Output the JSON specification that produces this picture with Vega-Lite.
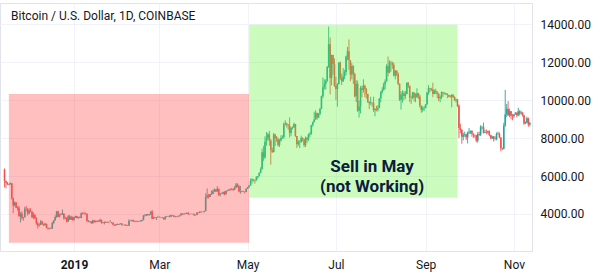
{
"$schema":"https://vega.github.io/schema/vega-lite/v6.json",
"width":532,"height":248,
"autosize":{"type":"none"},
"padding":{"left":0,"top":3,"right":68,"bottom":24},
"background":"#ffffff",
"config":{"view":{"stroke":"#e0e3eb","strokeWidth":1},"font":"Roboto"},
"data":{"values":[
{"d":"2018-11-14","o":6350,"h":6400,"l":5400,"c":5740},
{"d":"2018-11-15","o":5740,"h":5760,"l":5350,"c":5650},
{"d":"2018-11-16","o":5650,"h":5690,"l":5520,"c":5580},
{"d":"2018-11-17","o":5580,"h":5600,"l":5520,"c":5560},
{"d":"2018-11-18","o":5560,"h":5670,"l":5550,"c":5620},
{"d":"2018-11-19","o":5620,"h":5630,"l":4760,"c":4830},
{"d":"2018-11-20","o":4830,"h":4860,"l":4050,"c":4450},
{"d":"2018-11-21","o":4450,"h":4670,"l":4410,"c":4600},
{"d":"2018-11-22","o":4600,"h":4630,"l":4310,"c":4330},
{"d":"2018-11-23","o":4330,"h":4410,"l":4180,"c":4340},
{"d":"2018-11-24","o":4340,"h":4420,"l":3860,"c":3880},
{"d":"2018-11-25","o":3880,"h":4100,"l":3550,"c":4010},
{"d":"2018-11-26","o":4010,"h":4150,"l":3700,"c":3800},
{"d":"2018-11-27","o":3800,"h":3850,"l":3650,"c":3830},
{"d":"2018-11-28","o":3830,"h":4390,"l":3820,"c":4280},
{"d":"2018-11-29","o":4280,"h":4420,"l":4140,"c":4260},
{"d":"2018-11-30","o":4260,"h":4310,"l":3920,"c":4020},
{"d":"2018-12-01","o":4020,"h":4300,"l":4010,"c":4190},
{"d":"2018-12-02","o":4190,"h":4310,"l":4090,"c":4130},
{"d":"2018-12-03","o":4130,"h":4140,"l":3780,"c":3830},
{"d":"2018-12-04","o":3830,"h":4080,"l":3740,"c":3960},
{"d":"2018-12-05","o":3960,"h":3970,"l":3740,"c":3760},
{"d":"2018-12-06","o":3760,"h":3840,"l":3430,"c":3500},
{"d":"2018-12-07","o":3500,"h":3580,"l":3230,"c":3400},
{"d":"2018-12-08","o":3400,"h":3510,"l":3340,"c":3420},
{"d":"2018-12-09","o":3420,"h":3690,"l":3410,"c":3600},
{"d":"2018-12-10","o":3600,"h":3640,"l":3430,"c":3480},
{"d":"2018-12-11","o":3480,"h":3500,"l":3370,"c":3410},
{"d":"2018-12-12","o":3410,"h":3540,"l":3400,"c":3480},
{"d":"2018-12-13","o":3480,"h":3490,"l":3250,"c":3270},
{"d":"2018-12-14","o":3270,"h":3300,"l":3170,"c":3250},
{"d":"2018-12-15","o":3250,"h":3260,"l":3190,"c":3220},
{"d":"2018-12-16","o":3220,"h":3300,"l":3210,"c":3230},
{"d":"2018-12-17","o":3230,"h":3590,"l":3220,"c":3530},
{"d":"2018-12-18","o":3530,"h":3680,"l":3480,"c":3670},
{"d":"2018-12-19","o":3670,"h":3930,"l":3650,"c":3840},
{"d":"2018-12-20","o":3840,"h":4140,"l":3800,"c":4140},
{"d":"2018-12-21","o":4140,"h":4170,"l":3830,"c":3850},
{"d":"2018-12-22","o":3850,"h":3990,"l":3820,"c":3980},
{"d":"2018-12-23","o":3980,"h":4050,"l":3930,"c":3960},
{"d":"2018-12-24","o":3960,"h":4240,"l":3950,"c":4030},
{"d":"2018-12-25","o":4030,"h":4030,"l":3700,"c":3770},
{"d":"2018-12-26","o":3770,"h":3860,"l":3720,"c":3800},
{"d":"2018-12-27","o":3800,"h":3830,"l":3560,"c":3600},
{"d":"2018-12-28","o":3600,"h":3950,"l":3590,"c":3880},
{"d":"2018-12-29","o":3880,"h":3950,"l":3690,"c":3700},
{"d":"2018-12-30","o":3700,"h":3900,"l":3690,"c":3850},
{"d":"2018-12-31","o":3850,"h":3860,"l":3650,"c":3690},
{"d":"2019-01-01","o":3690,"h":3850,"l":3640,"c":3830},
{"d":"2019-01-02","o":3830,"h":3910,"l":3790,"c":3890},
{"d":"2019-01-03","o":3890,"h":3900,"l":3770,"c":3790},
{"d":"2019-01-04","o":3790,"h":3850,"l":3740,"c":3820},
{"d":"2019-01-05","o":3820,"h":3880,"l":3790,"c":3790},
{"d":"2019-01-06","o":3790,"h":4080,"l":3780,"c":4040},
{"d":"2019-01-07","o":4040,"h":4090,"l":3990,"c":4000},
{"d":"2019-01-08","o":4000,"h":4110,"l":3970,"c":3990},
{"d":"2019-01-09","o":3990,"h":4060,"l":3980,"c":4010},
{"d":"2019-01-10","o":4010,"h":4030,"l":3570,"c":3630},
{"d":"2019-01-11","o":3630,"h":3680,"l":3560,"c":3630},
{"d":"2019-01-12","o":3630,"h":3640,"l":3560,"c":3610},
{"d":"2019-01-13","o":3610,"h":3620,"l":3490,"c":3510},
{"d":"2019-01-14","o":3510,"h":3700,"l":3500,"c":3660},
{"d":"2019-01-15","o":3660,"h":3680,"l":3550,"c":3570},
{"d":"2019-01-16","o":3570,"h":3670,"l":3560,"c":3610},
{"d":"2019-01-17","o":3610,"h":3660,"l":3570,"c":3650},
{"d":"2019-01-18","o":3650,"h":3660,"l":3580,"c":3600},
{"d":"2019-01-19","o":3600,"h":3750,"l":3600,"c":3690},
{"d":"2019-01-20","o":3690,"h":3710,"l":3490,"c":3540},
{"d":"2019-01-21","o":3540,"h":3580,"l":3500,"c":3530},
{"d":"2019-01-22","o":3530,"h":3610,"l":3450,"c":3580},
{"d":"2019-01-23","o":3580,"h":3610,"l":3530,"c":3550},
{"d":"2019-01-24","o":3550,"h":3600,"l":3540,"c":3580},
{"d":"2019-01-25","o":3580,"h":3590,"l":3530,"c":3570},
{"d":"2019-01-26","o":3570,"h":3680,"l":3560,"c":3570},
{"d":"2019-01-27","o":3570,"h":3580,"l":3500,"c":3540},
{"d":"2019-01-28","o":3540,"h":3550,"l":3400,"c":3430},
{"d":"2019-01-29","o":3430,"h":3440,"l":3380,"c":3400},
{"d":"2019-01-30","o":3400,"h":3480,"l":3390,"c":3460},
{"d":"2019-01-31","o":3460,"h":3500,"l":3430,"c":3430},
{"d":"2019-02-01","o":3430,"h":3480,"l":3420,"c":3470},
{"d":"2019-02-02","o":3470,"h":3510,"l":3450,"c":3500},
{"d":"2019-02-03","o":3500,"h":3510,"l":3400,"c":3410},
{"d":"2019-02-04","o":3410,"h":3430,"l":3390,"c":3410},
{"d":"2019-02-05","o":3410,"h":3450,"l":3400,"c":3440},
{"d":"2019-02-06","o":3440,"h":3450,"l":3370,"c":3390},
{"d":"2019-02-07","o":3390,"h":3420,"l":3370,"c":3380},
{"d":"2019-02-08","o":3380,"h":3720,"l":3370,"c":3650},
{"d":"2019-02-09","o":3650,"h":3670,"l":3620,"c":3650},
{"d":"2019-02-10","o":3650,"h":3700,"l":3600,"c":3690},
{"d":"2019-02-11","o":3690,"h":3690,"l":3600,"c":3610},
{"d":"2019-02-12","o":3610,"h":3650,"l":3560,"c":3630},
{"d":"2019-02-13","o":3630,"h":3660,"l":3590,"c":3610},
{"d":"2019-02-14","o":3610,"h":3630,"l":3570,"c":3590},
{"d":"2019-02-15","o":3590,"h":3650,"l":3580,"c":3610},
{"d":"2019-02-16","o":3610,"h":3670,"l":3600,"c":3630},
{"d":"2019-02-17","o":3630,"h":3700,"l":3610,"c":3680},
{"d":"2019-02-18","o":3680,"h":3950,"l":3670,"c":3900},
{"d":"2019-02-19","o":3900,"h":4000,"l":3860,"c":3910},
{"d":"2019-02-20","o":3910,"h":3990,"l":3900,"c":3990},
{"d":"2019-02-21","o":3990,"h":4010,"l":3920,"c":3940},
{"d":"2019-02-22","o":3940,"h":4000,"l":3920,"c":3990},
{"d":"2019-02-23","o":3990,"h":4150,"l":3950,"c":4130},
{"d":"2019-02-24","o":4130,"h":4210,"l":3730,"c":3750},
{"d":"2019-02-25","o":3750,"h":3860,"l":3740,"c":3830},
{"d":"2019-02-26","o":3830,"h":3840,"l":3780,"c":3800},
{"d":"2019-02-27","o":3800,"h":3840,"l":3680,"c":3820},
{"d":"2019-02-28","o":3820,"h":3900,"l":3790,"c":3820},
{"d":"2019-03-01","o":3820,"h":3870,"l":3820,"c":3830},
{"d":"2019-03-02","o":3830,"h":3850,"l":3800,"c":3830},
{"d":"2019-03-03","o":3830,"h":3840,"l":3780,"c":3800},
{"d":"2019-03-04","o":3800,"h":3810,"l":3700,"c":3720},
{"d":"2019-03-05","o":3720,"h":3880,"l":3710,"c":3860},
{"d":"2019-03-06","o":3860,"h":3900,"l":3830,"c":3870},
{"d":"2019-03-07","o":3870,"h":3900,"l":3850,"c":3880},
{"d":"2019-03-08","o":3880,"h":3940,"l":3820,"c":3860},
{"d":"2019-03-09","o":3860,"h":3960,"l":3850,"c":3940},
{"d":"2019-03-10","o":3940,"h":3950,"l":3880,"c":3920},
{"d":"2019-03-11","o":3920,"h":3930,"l":3840,"c":3860},
{"d":"2019-03-12","o":3860,"h":3900,"l":3820,"c":3880},
{"d":"2019-03-13","o":3880,"h":3890,"l":3840,"c":3870},
{"d":"2019-03-14","o":3870,"h":3920,"l":3830,"c":3880},
{"d":"2019-03-15","o":3880,"h":3940,"l":3870,"c":3930},
{"d":"2019-03-16","o":3930,"h":4050,"l":3920,"c":4020},
{"d":"2019-03-17","o":4020,"h":4020,"l":3960,"c":3990},
{"d":"2019-03-18","o":3990,"h":4060,"l":3960,"c":4000},
{"d":"2019-03-19","o":4000,"h":4050,"l":3990,"c":4030},
{"d":"2019-03-20","o":4030,"h":4080,"l":4010,"c":4060},
{"d":"2019-03-21","o":4060,"h":4090,"l":3960,"c":3990},
{"d":"2019-03-22","o":3990,"h":4010,"l":3980,"c":4000},
{"d":"2019-03-23","o":4000,"h":4020,"l":3990,"c":4010},
{"d":"2019-03-24","o":4010,"h":4020,"l":3980,"c":4010},
{"d":"2019-03-25","o":4010,"h":4010,"l":3900,"c":3930},
{"d":"2019-03-26","o":3930,"h":3960,"l":3920,"c":3950},
{"d":"2019-03-27","o":3950,"h":4090,"l":3940,"c":4080},
{"d":"2019-03-28","o":4080,"h":4090,"l":4040,"c":4060},
{"d":"2019-03-29","o":4060,"h":4150,"l":4050,"c":4120},
{"d":"2019-03-30","o":4120,"h":4140,"l":4080,"c":4110},
{"d":"2019-03-31","o":4110,"h":4120,"l":4090,"c":4100},
{"d":"2019-04-01","o":4100,"h":4170,"l":4090,"c":4150},
{"d":"2019-04-02","o":4150,"h":5090,"l":4150,"c":4880},
{"d":"2019-04-03","o":4880,"h":5350,"l":4810,"c":4970},
{"d":"2019-04-04","o":4970,"h":5060,"l":4820,"c":4900},
{"d":"2019-04-05","o":4900,"h":5060,"l":4890,"c":5040},
{"d":"2019-04-06","o":5040,"h":5240,"l":5000,"c":5060},
{"d":"2019-04-07","o":5060,"h":5270,"l":5050,"c":5200},
{"d":"2019-04-08","o":5200,"h":5350,"l":5170,"c":5290},
{"d":"2019-04-09","o":5290,"h":5300,"l":5150,"c":5190},
{"d":"2019-04-10","o":5190,"h":5470,"l":5170,"c":5330},
{"d":"2019-04-11","o":5330,"h":5340,"l":4950,"c":5020},
{"d":"2019-04-12","o":5020,"h":5100,"l":4920,"c":5080},
{"d":"2019-04-13","o":5080,"h":5120,"l":5050,"c":5080},
{"d":"2019-04-14","o":5080,"h":5180,"l":5030,"c":5160},
{"d":"2019-04-15","o":5160,"h":5200,"l":4990,"c":5040},
{"d":"2019-04-16","o":5040,"h":5240,"l":5030,"c":5210},
{"d":"2019-04-17","o":5210,"h":5260,"l":5190,"c":5240},
{"d":"2019-04-18","o":5240,"h":5320,"l":5230,"c":5290},
{"d":"2019-04-19","o":5290,"h":5350,"l":5230,"c":5280},
{"d":"2019-04-20","o":5280,"h":5360,"l":5270,"c":5320},
{"d":"2019-04-21","o":5320,"h":5350,"l":5220,"c":5280},
{"d":"2019-04-22","o":5280,"h":5470,"l":5260,"c":5400},
{"d":"2019-04-23","o":5400,"h":5640,"l":5380,"c":5550},
{"d":"2019-04-24","o":5550,"h":5620,"l":5400,"c":5460},
{"d":"2019-04-25","o":5460,"h":5530,"l":5140,"c":5180},
{"d":"2019-04-26","o":5180,"h":5480,"l":5060,"c":5200},
{"d":"2019-04-27","o":5200,"h":5230,"l":5150,"c":5190},
{"d":"2019-04-28","o":5190,"h":5220,"l":5150,"c":5170},
{"d":"2019-04-29","o":5170,"h":5190,"l":5100,"c":5160},
{"d":"2019-04-30","o":5160,"h":5350,"l":5150,"c":5330},
{"d":"2019-05-01","o":5330,"h":5430,"l":5320,"c":5400},
{"d":"2019-05-02","o":5400,"h":5530,"l":5390,"c":5490},
{"d":"2019-05-03","o":5490,"h":5870,"l":5490,"c":5760},
{"d":"2019-05-04","o":5760,"h":5890,"l":5600,"c":5830},
{"d":"2019-05-05","o":5830,"h":5850,"l":5710,"c":5790},
{"d":"2019-05-06","o":5790,"h":5790,"l":5600,"c":5760},
{"d":"2019-05-07","o":5760,"h":6000,"l":5760,"c":5940},
{"d":"2019-05-08","o":5940,"h":6000,"l":5850,"c":5990},
{"d":"2019-05-09","o":5990,"h":6190,"l":5980,"c":6170},
{"d":"2019-05-10","o":6170,"h":6460,"l":6150,"c":6360},
{"d":"2019-05-11","o":6360,"h":7450,"l":6360,"c":7250},
{"d":"2019-05-12","o":7250,"h":7590,"l":6800,"c":6980},
{"d":"2019-05-13","o":6980,"h":8100,"l":6900,"c":7810},
{"d":"2019-05-14","o":7810,"h":8320,"l":7600,"c":7990},
{"d":"2019-05-15","o":7990,"h":8270,"l":7880,"c":8200},
{"d":"2019-05-16","o":8200,"h":8380,"l":7600,"c":7880},
{"d":"2019-05-17","o":7880,"h":7950,"l":6600,"c":7360},
{"d":"2019-05-18","o":7360,"h":7500,"l":7220,"c":7260},
{"d":"2019-05-19","o":7260,"h":8280,"l":7260,"c":8200},
{"d":"2019-05-20","o":8200,"h":8200,"l":7580,"c":7990},
{"d":"2019-05-21","o":7990,"h":8110,"l":7800,"c":7950},
{"d":"2019-05-22","o":7950,"h":8050,"l":7550,"c":7630},
{"d":"2019-05-23","o":7630,"h":7950,"l":7530,"c":7880},
{"d":"2019-05-24","o":7880,"h":8150,"l":7820,"c":8000},
{"d":"2019-05-25","o":8000,"h":8150,"l":7960,"c":8060},
{"d":"2019-05-26","o":8060,"h":8820,"l":7960,"c":8740},
{"d":"2019-05-27","o":8740,"h":8940,"l":8660,"c":8780},
{"d":"2019-05-28","o":8780,"h":8810,"l":8560,"c":8720},
{"d":"2019-05-29","o":8720,"h":8740,"l":8440,"c":8660},
{"d":"2019-05-30","o":8660,"h":9090,"l":8030,"c":8270},
{"d":"2019-05-31","o":8270,"h":8580,"l":8100,"c":8550},
{"d":"2019-06-01","o":8550,"h":8620,"l":8460,"c":8560},
{"d":"2019-06-02","o":8560,"h":8820,"l":8550,"c":8740},
{"d":"2019-06-03","o":8740,"h":8750,"l":8060,"c":8110},
{"d":"2019-06-04","o":8110,"h":8110,"l":7480,"c":7680},
{"d":"2019-06-05","o":7680,"h":7900,"l":7580,"c":7790},
{"d":"2019-06-06","o":7790,"h":7880,"l":7470,"c":7800},
{"d":"2019-06-07","o":7800,"h":8130,"l":7750,"c":8000},
{"d":"2019-06-08","o":8000,"h":8050,"l":7830,"c":7930},
{"d":"2019-06-09","o":7930,"h":7950,"l":7520,"c":7630},
{"d":"2019-06-10","o":7630,"h":8080,"l":7530,"c":8020},
{"d":"2019-06-11","o":8020,"h":8040,"l":7750,"c":7920},
{"d":"2019-06-12","o":7920,"h":8240,"l":7850,"c":8180},
{"d":"2019-06-13","o":8180,"h":8310,"l":8050,"c":8230},
{"d":"2019-06-14","o":8230,"h":8700,"l":8180,"c":8690},
{"d":"2019-06-15","o":8690,"h":8870,"l":8600,"c":8850},
{"d":"2019-06-16","o":8850,"h":9390,"l":8830,"c":8980},
{"d":"2019-06-17","o":8980,"h":9470,"l":8980,"c":9320},
{"d":"2019-06-18","o":9320,"h":9350,"l":8970,"c":9080},
{"d":"2019-06-19","o":9080,"h":9320,"l":9050,"c":9280},
{"d":"2019-06-20","o":9280,"h":9600,"l":9220,"c":9530},
{"d":"2019-06-21","o":9530,"h":10240,"l":9530,"c":10210},
{"d":"2019-06-22","o":10210,"h":11200,"l":10100,"c":10680},
{"d":"2019-06-23","o":10680,"h":11100,"l":10560,"c":10860},
{"d":"2019-06-24","o":10860,"h":11100,"l":10550,"c":11020},
{"d":"2019-06-25","o":11020,"h":11800,"l":10960,"c":11750},
{"d":"2019-06-26","o":11750,"h":13880,"l":11700,"c":12950},
{"d":"2019-06-27","o":12950,"h":13300,"l":10300,"c":11170},
{"d":"2019-06-28","o":11170,"h":12400,"l":10780,"c":12380},
{"d":"2019-06-29","o":12380,"h":12390,"l":11350,"c":11900},
{"d":"2019-06-30","o":11900,"h":12200,"l":10700,"c":10750},
{"d":"2019-07-01","o":10750,"h":11230,"l":10000,"c":10590},
{"d":"2019-07-02","o":10590,"h":10900,"l":9650,"c":10840},
{"d":"2019-07-03","o":10840,"h":11980,"l":10840,"c":11980},
{"d":"2019-07-04","o":11980,"h":12030,"l":11060,"c":11150},
{"d":"2019-07-05","o":11150,"h":11400,"l":10800,"c":10980},
{"d":"2019-07-06","o":10980,"h":11700,"l":10980,"c":11250},
{"d":"2019-07-07","o":11250,"h":11600,"l":11100,"c":11480},
{"d":"2019-07-08","o":11480,"h":12350,"l":11330,"c":12300},
{"d":"2019-07-09","o":12300,"h":12800,"l":12100,"c":12580},
{"d":"2019-07-10","o":12580,"h":13200,"l":11600,"c":12100},
{"d":"2019-07-11","o":12100,"h":12100,"l":11000,"c":11350},
{"d":"2019-07-12","o":11350,"h":11950,"l":11100,"c":11800},
{"d":"2019-07-13","o":11800,"h":11850,"l":10850,"c":11370},
{"d":"2019-07-14","o":11370,"h":11450,"l":10150,"c":10200},
{"d":"2019-07-15","o":10200,"h":11050,"l":9900,"c":10860},
{"d":"2019-07-16","o":10860,"h":11030,"l":9380,"c":9440},
{"d":"2019-07-17","o":9440,"h":9980,"l":9080,"c":9670},
{"d":"2019-07-18","o":9670,"h":10750,"l":9300,"c":10630},
{"d":"2019-07-19","o":10630,"h":10770,"l":10150,"c":10530},
{"d":"2019-07-20","o":10530,"h":11100,"l":10400,"c":10760},
{"d":"2019-07-21","o":10760,"h":10820,"l":10150,"c":10590},
{"d":"2019-07-22","o":10590,"h":10650,"l":10090,"c":10330},
{"d":"2019-07-23","o":10330,"h":10330,"l":9850,"c":9920},
{"d":"2019-07-24","o":9920,"h":9930,"l":9530,"c":9840},
{"d":"2019-07-25","o":9840,"h":10180,"l":9750,"c":9880},
{"d":"2019-07-26","o":9880,"h":9890,"l":9650,"c":9860},
{"d":"2019-07-27","o":9860,"h":10180,"l":9380,"c":9470},
{"d":"2019-07-28","o":9470,"h":9590,"l":9150,"c":9540},
{"d":"2019-07-29","o":9540,"h":9700,"l":9410,"c":9510},
{"d":"2019-07-30","o":9510,"h":9740,"l":9400,"c":9590},
{"d":"2019-07-31","o":9590,"h":10110,"l":9580,"c":10090},
{"d":"2019-08-01","o":10090,"h":10470,"l":9890,"c":10410},
{"d":"2019-08-02","o":10410,"h":10680,"l":10350,"c":10530},
{"d":"2019-08-03","o":10530,"h":10920,"l":10510,"c":10820},
{"d":"2019-08-04","o":10820,"h":11100,"l":10570,"c":10980},
{"d":"2019-08-05","o":10980,"h":11900,"l":10980,"c":11800},
{"d":"2019-08-06","o":11800,"h":12300,"l":11250,"c":11460},
{"d":"2019-08-07","o":11460,"h":12100,"l":11410,"c":11980},
{"d":"2019-08-08","o":11980,"h":12070,"l":11500,"c":11990},
{"d":"2019-08-09","o":11990,"h":12030,"l":11650,"c":11860},
{"d":"2019-08-10","o":11860,"h":11960,"l":11250,"c":11290},
{"d":"2019-08-11","o":11290,"h":11580,"l":11100,"c":11560},
{"d":"2019-08-12","o":11560,"h":11560,"l":11260,"c":11390},
{"d":"2019-08-13","o":11390,"h":11460,"l":10800,"c":10860},
{"d":"2019-08-14","o":10860,"h":10880,"l":9950,"c":10020},
{"d":"2019-08-15","o":10020,"h":10460,"l":9500,"c":10300},
{"d":"2019-08-16","o":10300,"h":10520,"l":9870,"c":10360},
{"d":"2019-08-17","o":10360,"h":10470,"l":9990,"c":10220},
{"d":"2019-08-18","o":10220,"h":10490,"l":10070,"c":10320},
{"d":"2019-08-19","o":10320,"h":10940,"l":10320,"c":10920},
{"d":"2019-08-20","o":10920,"h":10950,"l":10630,"c":10760},
{"d":"2019-08-21","o":10760,"h":10760,"l":9900,"c":10130},
{"d":"2019-08-22","o":10130,"h":10230,"l":9800,"c":10120},
{"d":"2019-08-23","o":10120,"h":10440,"l":10060,"c":10400},
{"d":"2019-08-24","o":10400,"h":10420,"l":9930,"c":10140},
{"d":"2019-08-25","o":10140,"h":10360,"l":9890,"c":10140},
{"d":"2019-08-26","o":10140,"h":10630,"l":10140,"c":10370},
{"d":"2019-08-27","o":10370,"h":10380,"l":10060,"c":10190},
{"d":"2019-08-28","o":10190,"h":10290,"l":9600,"c":9720},
{"d":"2019-08-29","o":9720,"h":9720,"l":9330,"c":9490},
{"d":"2019-08-30","o":9490,"h":9680,"l":9380,"c":9590},
{"d":"2019-08-31","o":9590,"h":9680,"l":9440,"c":9600},
{"d":"2019-09-01","o":9600,"h":9800,"l":9560,"c":9770},
{"d":"2019-09-02","o":9770,"h":10440,"l":9770,"c":10390},
{"d":"2019-09-03","o":10390,"h":10800,"l":10290,"c":10630},
{"d":"2019-09-04","o":10630,"h":10650,"l":10410,"c":10580},
{"d":"2019-09-05","o":10580,"h":10650,"l":10480,"c":10580},
{"d":"2019-09-06","o":10580,"h":10920,"l":10150,"c":10320},
{"d":"2019-09-07","o":10320,"h":10560,"l":10320,"c":10490},
{"d":"2019-09-08","o":10490,"h":10600,"l":10320,"c":10410},
{"d":"2019-09-09","o":10410,"h":10480,"l":10100,"c":10330},
{"d":"2019-09-10","o":10330,"h":10390,"l":9950,"c":10100},
{"d":"2019-09-11","o":10100,"h":10250,"l":9890,"c":10160},
{"d":"2019-09-12","o":10160,"h":10460,"l":10050,"c":10420},
{"d":"2019-09-13","o":10420,"h":10440,"l":10170,"c":10360},
{"d":"2019-09-14","o":10360,"h":10420,"l":10300,"c":10360},
{"d":"2019-09-15","o":10360,"h":10380,"l":10260,"c":10310},
{"d":"2019-09-16","o":10310,"h":10370,"l":10100,"c":10270},
{"d":"2019-09-17","o":10270,"h":10280,"l":10150,"c":10190},
{"d":"2019-09-18","o":10190,"h":10270,"l":10130,"c":10160},
{"d":"2019-09-19","o":10160,"h":10320,"l":9620,"c":10280},
{"d":"2019-09-20","o":10280,"h":10300,"l":10100,"c":10170},
{"d":"2019-09-21","o":10170,"h":10200,"l":9950,"c":9990},
{"d":"2019-09-22","o":9990,"h":10080,"l":9870,"c":10040},
{"d":"2019-09-23","o":10040,"h":10060,"l":9640,"c":9700},
{"d":"2019-09-24","o":9700,"h":9780,"l":8000,"c":8530},
{"d":"2019-09-25","o":8530,"h":8760,"l":8250,"c":8430},
{"d":"2019-09-26","o":8430,"h":8480,"l":7700,"c":8070},
{"d":"2019-09-27","o":8070,"h":8280,"l":7880,"c":8180},
{"d":"2019-09-28","o":8180,"h":8340,"l":8070,"c":8200},
{"d":"2019-09-29","o":8200,"h":8220,"l":7900,"c":8040},
{"d":"2019-09-30","o":8040,"h":8340,"l":7720,"c":8300},
{"d":"2019-10-01","o":8300,"h":8530,"l":8200,"c":8340},
{"d":"2019-10-02","o":8340,"h":8390,"l":8220,"c":8390},
{"d":"2019-10-03","o":8390,"h":8400,"l":8070,"c":8240},
{"d":"2019-10-04","o":8240,"h":8240,"l":8010,"c":8160},
{"d":"2019-10-05","o":8160,"h":8180,"l":8020,"c":8150},
{"d":"2019-10-06","o":8150,"h":8170,"l":7780,"c":7870},
{"d":"2019-10-07","o":7870,"h":8320,"l":7760,"c":8210},
{"d":"2019-10-08","o":8210,"h":8340,"l":8120,"c":8180},
{"d":"2019-10-09","o":8180,"h":8680,"l":8110,"c":8590},
{"d":"2019-10-10","o":8590,"h":8650,"l":8460,"c":8590},
{"d":"2019-10-11","o":8590,"h":8820,"l":8240,"c":8270},
{"d":"2019-10-12","o":8270,"h":8440,"l":8270,"c":8310},
{"d":"2019-10-13","o":8310,"h":8450,"l":8200,"c":8290},
{"d":"2019-10-14","o":8290,"h":8400,"l":8230,"c":8360},
{"d":"2019-10-15","o":8360,"h":8410,"l":8100,"c":8160},
{"d":"2019-10-16","o":8160,"h":8170,"l":7940,"c":7990},
{"d":"2019-10-17","o":7990,"h":8120,"l":7950,"c":8080},
{"d":"2019-10-18","o":8080,"h":8110,"l":7820,"c":7960},
{"d":"2019-10-19","o":7960,"h":8100,"l":7880,"c":7950},
{"d":"2019-10-20","o":7950,"h":8300,"l":7880,"c":8230},
{"d":"2019-10-21","o":8230,"h":8340,"l":8170,"c":8220},
{"d":"2019-10-22","o":8220,"h":8300,"l":7990,"c":8030},
{"d":"2019-10-23","o":8030,"h":8040,"l":7300,"c":7470},
{"d":"2019-10-24","o":7470,"h":7500,"l":7370,"c":7440},
{"d":"2019-10-25","o":7440,"h":8800,"l":7400,"c":8660},
{"d":"2019-10-26","o":8660,"h":10540,"l":8600,"c":9250},
{"d":"2019-10-27","o":9250,"h":9800,"l":9110,"c":9550},
{"d":"2019-10-28","o":9550,"h":9950,"l":9180,"c":9210},
{"d":"2019-10-29","o":9210,"h":9550,"l":9100,"c":9420},
{"d":"2019-10-30","o":9420,"h":9430,"l":8990,"c":9180},
{"d":"2019-10-31","o":9180,"h":9270,"l":8940,"c":9150},
{"d":"2019-11-01","o":9150,"h":9260,"l":9050,"c":9250},
{"d":"2019-11-02","o":9250,"h":9380,"l":9230,"c":9310},
{"d":"2019-11-03","o":9310,"h":9380,"l":9090,"c":9200},
{"d":"2019-11-04","o":9200,"h":9600,"l":9150,"c":9410},
{"d":"2019-11-05","o":9410,"h":9480,"l":9190,"c":9300},
{"d":"2019-11-06","o":9300,"h":9440,"l":9250,"c":9340},
{"d":"2019-11-07","o":9340,"h":9370,"l":9130,"c":9200},
{"d":"2019-11-08","o":9200,"h":9220,"l":8700,"c":8770},
{"d":"2019-11-09","o":8770,"h":8880,"l":8750,"c":8810},
{"d":"2019-11-10","o":8810,"h":9130,"l":8790,"c":9040},
{"d":"2019-11-11","o":9040,"h":9080,"l":8600,"c":8720},
{"d":"2019-11-12","o":8720,"h":8860,"l":8620,"c":8800}
]},
"layer":[
{"mark":{"type":"rule","strokeWidth":0.9},
 "encoding":{
  "x":{"field":"d","type":"temporal","title":null,
   "scale":{"type":"utc","padding":0,"domain":[{"year":2018,"month":11,"date":10,"hours":20,"minutes":40,"utc":true},{"year":2019,"month":11,"date":13,"hours":12,"utc":true}]},
   "axis":{"values":[{"year":2019,"month":1,"date":1,"utc":true},{"year":2019,"month":3,"date":1,"utc":true},{"year":2019,"month":5,"date":1,"utc":true},{"year":2019,"month":7,"date":1,"utc":true},{"year":2019,"month":9,"date":1,"utc":true},{"year":2019,"month":11,"date":1,"utc":true}],
    "labelExpr":"utcmonth(datum.value) == 0 ? utcFormat(datum.value, '%Y') : utcFormat(datum.value, '%b')",
    "labelFontWeight":{"condition":{"test":"utcmonth(datum.value) == 0","value":"bold"},"value":"normal"},
    "grid":true,"gridColor":"#f0f3fa","gridWidth":1,"ticks":false,"domain":true,"domainColor":"#e0e3eb",
    "labelFont":"Roboto","labelFontSize":12,"labelColor":"#131722","labelPadding":8,"labelFlush":false}},
  "y":{"field":"l","type":"quantitative","title":null,
   "scale":{"domain":[2050,15120],"nice":false,"zero":false},
   "axis":{"orient":"right","values":[4000,6000,8000,10000,12000,14000],"format":".2f",
    "grid":true,"gridColor":"#f0f3fa","gridWidth":1,"ticks":false,"domain":true,"domainColor":"#e0e3eb",
    "labelFont":"Roboto","labelFontSize":12,"labelColor":"#131722","labelPadding":8}},
  "y2":{"field":"h"},
  "color":{"condition":{"test":"datum.c >= datum.o","value":"#26a69a"},"value":"#ef5350"}}},
{"mark":{"type":"bar","width":1.6},
 "encoding":{
  "x":{"field":"d","type":"temporal","title":null},
  "y":{"field":"o","type":"quantitative","title":null},
  "y2":{"field":"c"},
  "color":{"condition":{"test":"datum.c >= datum.o","value":"#26a69a"},"value":"#ef5350"}}},
{"data":{"values":[{"x1":"2018-11-17","x2":"2019-05-02","y1":2490,"y2":10330}]},
 "mark":{"type":"rect","color":"#ff5252","opacity":0.37},
 "encoding":{
  "x":{"field":"x1","type":"temporal","title":null},"x2":{"field":"x2"},
  "y":{"field":"y1","type":"quantitative","title":null},"y2":{"field":"y2"}}},
{"data":{"values":[{"x1":"2019-05-02","x2":"2019-09-23","y1":4860,"y2":13980}]},
 "mark":{"type":"rect","color":"#55f523","opacity":0.3},
 "encoding":{
  "x":{"field":"x1","type":"temporal","title":null},"x2":{"field":"x2"},
  "y":{"field":"y1","type":"quantitative","title":null},"y2":{"field":"y2"}}},
{"data":{"values":[{}]},
 "mark":{"type":"text","text":"Bitcoin / U.S. Dollar, 1D, COINBASE","align":"left","baseline":"middle","font":"Roboto","fontSize":12,"color":"#131722"},
 "encoding":{
  "x":{"datum":{"year":2018,"month":11,"date":18,"hours":12,"utc":true},"type":"temporal"},
  "y":{"datum":14440,"type":"quantitative"}}},
{"data":{"values":[{}]},
 "mark":{"type":"text","text":["Sell in May","(not Working)"],"align":"center","baseline":"middle","font":"Roboto","fontSize":17,"fontWeight":"bold","lineHeight":20,"color":"#0c1d3d"},
 "encoding":{
  "x":{"datum":{"year":2019,"month":7,"date":26,"utc":true},"type":"temporal"},
  "y":{"datum":6480,"type":"quantitative"}}}
]
}
